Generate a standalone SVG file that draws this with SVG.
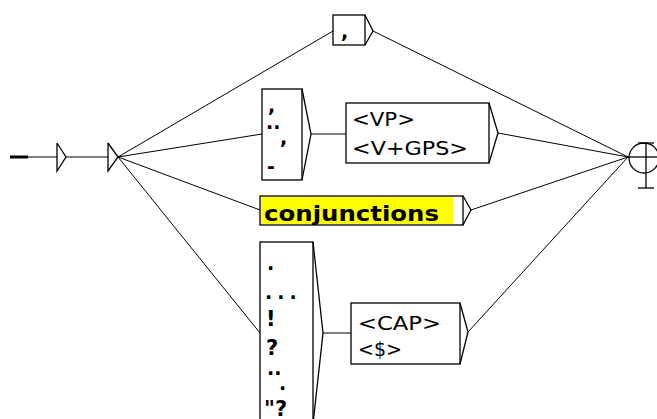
<svg xmlns="http://www.w3.org/2000/svg" width="657" height="419" viewBox="0 0 657 419">
<style>
.b{fill:#fff;stroke:#000;stroke-width:1.3}
.t{fill:none;stroke:#000;stroke-width:1.3;stroke-linejoin:miter}
.e{fill:none;stroke:#000;stroke-width:1}
.lbl{font-family:"DejaVu Sans",sans-serif;font-size:19px;fill:#000}
.p{font-family:"DejaVu Sans",sans-serif;font-size:19px;font-weight:bold;fill:#000}
.q{font-family:"DejaVu Sans",sans-serif;font-size:21px;font-weight:bold;fill:#000}
</style>
<rect width="657" height="419" fill="#fff"/>
<g id="connectors">
<line class="e" x1="28" y1="157" x2="57" y2="157"/>
<line x1="10" y1="157" x2="28" y2="157" stroke="#000" stroke-width="3"/>
<line class="e" x1="66" y1="157" x2="108" y2="157"/>
<line class="e" x1="118" y1="157" x2="333" y2="31"/>
<line class="e" x1="118" y1="157" x2="262" y2="134"/>
<line class="e" x1="118" y1="157" x2="260" y2="210"/>
<line class="e" x1="118" y1="157" x2="260" y2="333"/>
<line class="e" x1="373" y1="31" x2="628" y2="157"/>
<line class="e" x1="311" y1="134" x2="346" y2="134"/>
<line class="e" x1="498" y1="133" x2="628" y2="157"/>
<line class="e" x1="471" y1="210" x2="628" y2="157"/>
<line class="e" x1="323" y1="333" x2="351" y2="333"/>
<line class="e" x1="468" y1="332" x2="628" y2="157"/>
</g>
<g id="init1">
<polyline class="t" points="57,143 57,171 66,157 57,143"/>
</g>
<g id="init2">
<polyline class="t" points="108,143 108,171 118,157 108,143"/>
</g>
<g id="comma">
<rect class="b" x="333" y="15" width="32" height="30"/>
<polyline class="t" points="365,15 373,31 365,45"/>
<text class="p" x="341" y="38">,</text>
</g>
<g id="punct1">
<rect class="b" x="262" y="89" width="40" height="91"/>
<polyline class="t" points="302,89 311,134 302,180"/>
<text class="p" x="268" y="112">,</text>
<text class="p" x="266" y="129">..</text>
<text class="p" x="280" y="144">,</text>
<text class="p" x="267" y="173">-</text>
</g>
<g id="vp">
<rect class="b" x="346" y="103" width="143" height="60"/>
<polyline class="t" points="489,103 498,133 489,163"/>
<text class="lbl" x="352" y="126" textLength="63" lengthAdjust="spacingAndGlyphs">&lt;VP&gt;</text>
<text class="lbl" x="352" y="155" textLength="116" lengthAdjust="spacingAndGlyphs">&lt;V+GPS&gt;</text>
</g>
<g id="conj">
<rect class="b" x="260" y="196" width="203" height="29"/>
<rect x="261" y="197" width="192" height="27" fill="#ffff00"/>
<polyline class="t" points="463,196 471,210 463,225"/>
<text x="264" y="221" font-family="DejaVu Sans, sans-serif" font-size="22" font-weight="bold" textLength="175" lengthAdjust="spacingAndGlyphs">conjunctions</text>
</g>
<g id="punct2">
<rect class="b" x="260" y="242" width="53" height="190"/>
<polyline class="t" points="313,242 323,333 313,424"/>
<text class="p" x="267" y="270">.</text>
<text class="p" x="265" y="299" letter-spacing="5">...</text>
<text class="q" x="266" y="326">!</text>
<text class="q" x="266" y="355">?</text>
<text class="p" x="267" y="375">..</text>
<text class="p" x="279" y="390">.</text>
<text class="q" x="264" y="416">"?</text>
</g>
<g id="cap">
<rect class="b" x="351" y="303" width="109" height="61"/>
<polyline class="t" points="460,303 468,332 460,364"/>
<text class="lbl" x="358" y="330" textLength="83" lengthAdjust="spacingAndGlyphs">&lt;CAP&gt;</text>
<text class="lbl" x="358" y="356" textLength="44" lengthAdjust="spacingAndGlyphs">&lt;$&gt;</text>
</g>
<g id="final">
<circle cx="644" cy="158" r="15" fill="none" stroke="#000" stroke-width="1.3"/>
<line class="t" x1="627" y1="157" x2="657" y2="157"/>
<line class="t" x1="646" y1="143" x2="646" y2="188"/>
<line class="t" x1="638" y1="143" x2="654" y2="143"/>
<line class="t" x1="638" y1="188" x2="654" y2="188"/>
</g>
</svg>
